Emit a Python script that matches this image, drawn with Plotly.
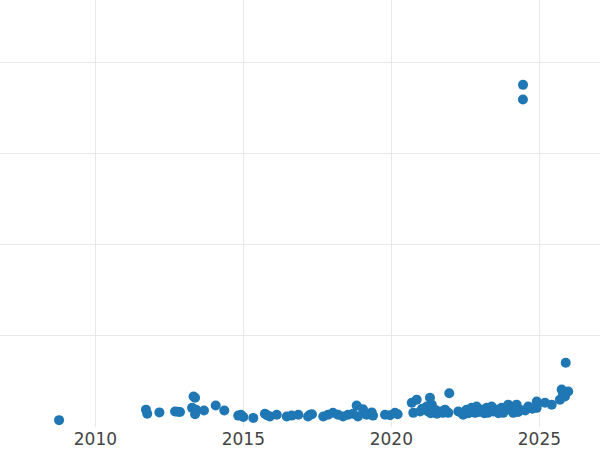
import plotly.graph_objects as go

dates = [
    "2008-10-10", "2011-09-17", "2011-10-03", "2012-03-01", "2012-09-10",
    "2012-11-10", "2012-10-10", "2013-04-26", "2013-04-08", "2013-05-15",
    "2013-05-27", "2013-05-15", "2013-09-02", "2014-01-25", "2014-05-11",
    "2014-10-30", "2015-01-01", "2014-12-02", "2015-05-04", "2015-09-24",
    "2015-11-25", "2015-10-19", "2016-02-17", "2016-06-19", "2016-08-19",
    "2016-11-09", "2017-04-03", "2017-03-09", "2017-04-27", "2017-09-13",
    "2017-11-10", "2018-01-11", "2018-03-14", "2018-05-15", "2018-07-15",
    "2018-09-15", "2018-10-30", "2018-11-15", "2019-01-16", "2019-03-03",
    "2019-05-04", "2019-05-20", "2019-10-15", "2019-12-16", "2020-02-15",
    "2020-03-19", "2020-09-09", "2020-09-28", "2020-11-09", "2020-12-20",
    "2021-03-13", "2021-04-22", "2021-05-14", "2021-06-23", "2021-08-23",
    "2021-10-24", "2021-12-04", "2021-12-16", "2021-03-29", "2021-01-15",
    "2021-07-16", "2021-09-27", "2022-04-06", "2022-05-18", "2022-07-18",
    "2022-09-18", "2022-11-18", "2022-06-06", "2022-10-29", "2023-01-20",
    "2023-03-23", "2023-05-23", "2023-07-24", "2023-09-23", "2023-06-12",
    "2023-09-02", "2023-10-13", "2023-04-06", "2023-11-03", "2023-12-14",
    "2024-01-04", "2024-02-14", "2024-03-26", "2024-05-06", "2024-06-13",
    "2024-06-12", "2024-08-17", "2024-11-29", "2024-11-29", "2025-03-11",
    "2025-06-02", "2025-09-12", "2025-10-03", "2025-11-13", "2025-12-23",
    "2025-11-22", "2025-10-19", "2021-05-01", "2021-11-10", "2022-08-10",
    "2022-12-15", "2023-02-20", "2023-08-15", "2024-04-15", "2024-07-10",
    "2024-10-05",
]
values = [
    1.5, 3.8, 2.9, 3.2, 3.4,
    3.3, 3.35, 6.7, 4.2, 2.8,
    3.8, 6.4, 3.6, 4.7, 3.6,
    2.5, 2.2, 2.7, 2.0, 2.9,
    2.3, 2.6, 2.7, 2.3, 2.5,
    2.7, 2.7, 2.3, 2.8, 2.3,
    2.7, 3.1, 2.7, 2.3, 2.7,
    2.9, 4.7, 2.3, 3.9, 2.7,
    3.2, 2.5, 2.7, 2.6, 3.1,
    2.8, 5.3, 3.1, 6.0, 3.4,
    4.5, 6.4, 4.9, 3.8, 3.4,
    3.8, 3.1, 7.4, 3.4, 4.0,
    2.9, 3.1, 3.4, 3.1, 3.8,
    4.2, 4.5, 2.7, 3.1, 3.8,
    4.2, 4.5, 3.8, 4.2, 3.4,
    3.4, 3.1, 3.1, 3.8, 4.9,
    3.8, 3.1, 4.9, 3.8, 75.0,
    71.8, 4.5, 5.6, 4.2, 5.3,
    4.9, 6.0, 8.2, 6.7, 7.8,
    14.1, 7.3, 3.0, 3.3, 3.0,
    3.3, 3.0, 3.0, 3.3, 3.6,
    4.0,
]

x_range = ["2006-10-12", "2027-01-19"]
y_range = [0, 93.6]

fig = go.Figure()
fig.add_trace(go.Scatter(x=dates, y=values, mode="markers",
                         marker=dict(color="#1f77b4", size=10)))

fig.update_layout(
    width=600, height=450,
    margin=dict(l=0, r=0, t=0, b=23),
    plot_bgcolor="white", paper_bgcolor="white",
    showlegend=False,
    font=dict(family="Verdana, DejaVu Sans, sans-serif", size=17, color="#444444"),
)
fig.update_xaxes(range=x_range, showgrid=True, gridcolor="#e8e8e8", gridwidth=1,
                 zeroline=False, showline=False, ticks="", dtick="M60")
fig.update_yaxes(range=y_range, showgrid=True, gridcolor="#e8e8e8", gridwidth=1,
                 zeroline=False, showline=False, showticklabels=False, dtick=20)

# the page body has an 8px default margin; drop it so the chart fills the window
fig.write_html("out.html", config={"displayModeBar": False},
               post_script="document.body.style.margin='0';")
